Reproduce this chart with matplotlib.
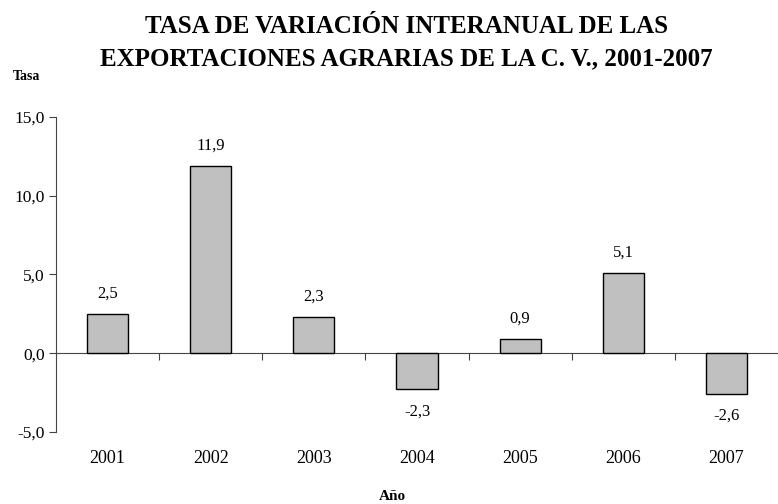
import matplotlib
matplotlib.use("Agg")
import matplotlib.pyplot as plt
import numpy as np

years = ["2001", "2002", "2003", "2004", "2005", "2006", "2007"]
rates = [2.5, 11.9, 2.3, -2.3, 0.9, 5.1, -2.6]
yticks = [-5, 0, 5, 10, 15]

plt.rcParams['font.family'] = ['Liberation Serif', 'DejaVu Serif']

fig = plt.figure(figsize=(7.78, 5.04), dpi=100)
ax = fig.add_axes([0.072, 0.143, 0.928, 0.625])

x = np.arange(len(years))
ax.bar(x, rates, width=0.4, color='#c0c0c0', edgecolor='black', linewidth=1, zorder=3)

ax.set_xlim(-0.5, len(years) - 0.5)
ax.set_ylim(-5, 15)
ax.set_yticks(yticks)
ax.set_yticklabels([f"{v:.1f}".replace('.', ',') for v in yticks], fontsize=12.5)
ax.tick_params(axis='y', direction='out', length=5, color='#444444', pad=3)

ax.set_xticks(x)
ax.set_xticklabels(years, fontsize=13)
ax.tick_params(axis='x', length=0, pad=13)

for s in ['top', 'right', 'bottom']:
    ax.spines[s].set_visible(False)
ax.spines['left'].set_color('#444444')

sec = ax.secondary_xaxis(0.25)
sec.set_xticks(np.arange(0.5, len(years) - 0.5, 1.0))
sec.set_xticklabels([])
sec.tick_params(direction='out', length=5, color='#444444')
sec.spines['bottom'].set_color('#444444')

for xi, v in zip(x, rates):
    label = f"{v:.1f}".replace('.', ',')
    if v >= 0:
        ax.annotate(label, (xi, v), xytext=(0, 11.5), textcoords='offset points',
                    ha='center', va='baseline', fontsize=12)
    else:
        ax.annotate(label, (xi, v), xytext=(0, -10), textcoords='offset points',
                    ha='center', va='top', fontsize=12)

fig.text(0.522, 1 - 33 / 504, "TASA DE VARIACIÓN INTERANUAL DE LAS",
         ha='center', va='baseline', fontsize=18, fontweight='bold')
fig.text(0.522, 1 - 65 / 504, "EXPORTACIONES AGRARIAS DE LA C. V., 2001-2007",
         ha='center', va='baseline', fontsize=18, fontweight='bold')
fig.text(0.017, 1 - 76 / 504, "Tasa", ha='left', va='center', fontsize=10, fontweight='bold')
fig.text(392 / 778, 1 - 497 / 504, "Año", ha='center', va='center', fontsize=11, fontweight='bold')

fig.savefig("out.png", dpi=100)
